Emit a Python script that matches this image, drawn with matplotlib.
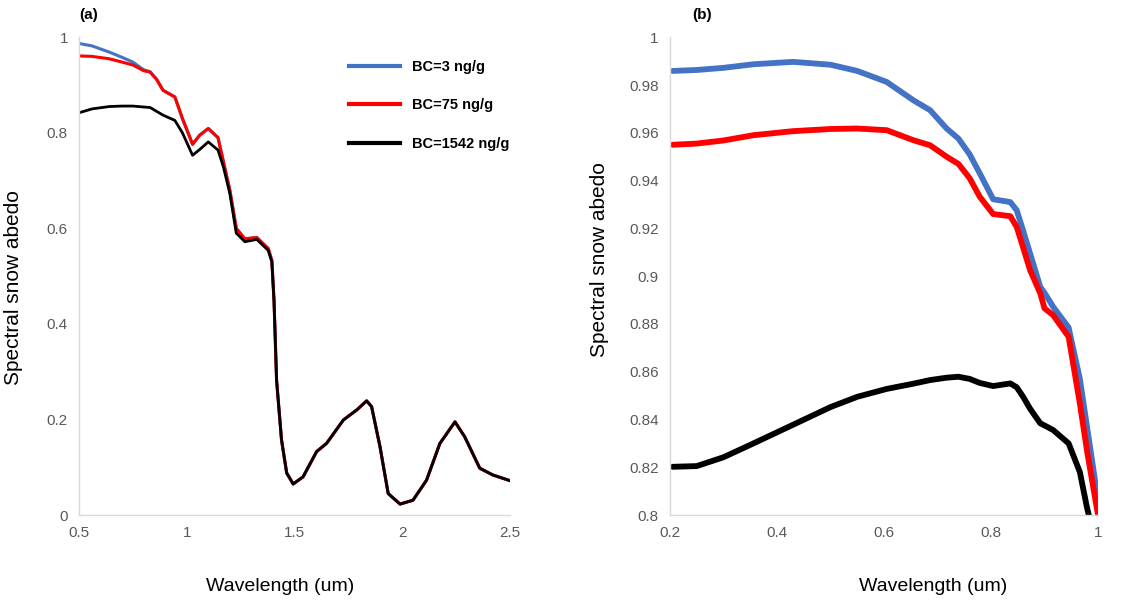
import matplotlib.pyplot as plt
from matplotlib.ticker import FuncFormatter
from matplotlib.lines import Line2D

plt.rcParams['font.family'] = ['Liberation Sans', 'DejaVu Sans']

# ---------------- panel (a): full spectrum ----------------
wl_a = [0.50, 0.56, 0.64, 0.70, 0.75, 0.80, 0.83, 0.86, 0.89, 0.945, 0.98,
        1.027, 1.06, 1.10, 1.145, 1.17, 1.20, 1.23, 1.27, 1.325, 1.378, 1.395,
        1.405, 1.417, 1.44, 1.464, 1.494, 1.54, 1.603, 1.649, 1.727, 1.789,
        1.835, 1.858, 1.897, 1.935, 1.99, 2.05, 2.113, 2.175, 2.245, 2.29,
        2.36, 2.42, 2.50]

black_a = [0.842, 0.850, 0.855, 0.856, 0.856, 0.854, 0.853, 0.845, 0.837, 0.826, 0.800,
           0.753, 0.765, 0.781, 0.764, 0.729, 0.673, 0.590, 0.572, 0.577, 0.554, 0.530,
           0.450, 0.282, 0.157, 0.088, 0.065, 0.080, 0.133, 0.150, 0.199, 0.220,
           0.239, 0.227, 0.143, 0.045, 0.023, 0.031, 0.073, 0.150, 0.195, 0.164,
           0.098, 0.084, 0.072]

red_a = [0.961, 0.960, 0.955, 0.948, 0.942, 0.930, 0.927, 0.912, 0.889, 0.875, 0.830,
         0.776, 0.795, 0.809, 0.790, 0.740, 0.680, 0.600, 0.578, 0.581, 0.558, 0.533] + black_a[22:]

blue_a = [0.987, 0.982, 0.969, 0.958, 0.948, 0.932, 0.928] + red_a[7:]

# ---------------- panel (b): 0.2 - 1.0 um ----------------
wl_b = [0.205, 0.25, 0.30, 0.356, 0.43, 0.50, 0.55, 0.605, 0.655, 0.686, 0.717,
        0.739, 0.76, 0.779, 0.804, 0.836, 0.848, 0.86, 0.873, 0.892, 0.90, 0.916,
        0.945, 0.966, 0.98, 1.0]

blue_b = [0.9859, 0.9863, 0.9872, 0.9887, 0.9897, 0.9885, 0.9859, 0.9813, 0.9736, 0.9695, 0.9618,
          0.9576, 0.951, 0.943, 0.9322, 0.931, 0.9276, 0.919, 0.9095, 0.8955, 0.893, 0.8872,
          0.8785, 0.857, 0.836, 0.806]

red_b = [0.955, 0.9555, 0.9568, 0.959, 0.9607, 0.9616, 0.9618, 0.9611, 0.9569, 0.9548, 0.950,
         0.947, 0.941, 0.9332, 0.926, 0.9251, 0.9206, 0.912, 0.9025, 0.8928, 0.8865, 0.8837,
         0.8746, 0.8467, 0.826, 0.800]

wl_b_black = wl_b[:-2] + [0.979, 0.99]
black_b = [0.8202, 0.8205, 0.8242, 0.830, 0.8378, 0.8452, 0.8495, 0.8528, 0.855, 0.8565, 0.8575,
           0.8579, 0.857, 0.8553, 0.854, 0.8551, 0.8535, 0.8495, 0.8445, 0.8384, 0.8375, 0.8356,
           0.830, 0.818, 0.8035, 0.793]

labels = ["BC=3 ng/g", "BC=75 ng/g", "BC=1542 ng/g"]
BLUE, RED, BLACK = "#4472C4", "#FF0000", "#000000"
TICK_GREY = "#595959"
SPINE_GREY = "#D9D9D9"

fig = plt.figure(figsize=(11.4, 6.01), dpi=100)
ax_a = fig.add_axes([0.0693, 0.143, 0.378, 0.795])
ax_b = fig.add_axes([0.5877, 0.143, 0.3755, 0.795])


def style_axes(ax, xlab_x, ylab_x, ylab_y):
    for side in ["top", "right"]:
        ax.spines[side].set_visible(False)
    for side in ["left", "bottom"]:
        ax.spines[side].set_color(SPINE_GREY)
        ax.spines[side].set_linewidth(1.0)
    ax.tick_params(length=0, labelsize=11, labelcolor=TICK_GREY, pad=8)
    fmt = FuncFormatter(lambda v, p: f"{v:g}")
    ax.xaxis.set_major_formatter(fmt)
    ax.yaxis.set_major_formatter(fmt)
    ax.set_xlabel("Wavelength (um)", fontsize=14, va="center")
    ax.set_ylabel("Spectral snow abedo", fontsize=15, va="center")
    ax.xaxis.set_label_coords(xlab_x, -0.149)
    ax.yaxis.set_label_coords(ylab_x, ylab_y)


# panel (a)
ax_a.plot(wl_a, blue_a, color=BLUE, lw=2.2, solid_capstyle="round", solid_joinstyle="round")
ax_a.plot(wl_a, red_a, color=RED, lw=2.2, solid_capstyle="round", solid_joinstyle="round")
ax_a.plot(wl_a, black_a, color=BLACK, lw=2.0, solid_capstyle="round", solid_joinstyle="round")
ax_a.set_xlim(0.5, 2.5)
ax_a.set_ylim(0, 1)
ax_a.set_xticks([0.5, 1, 1.5, 2, 2.5])
ax_a.set_yticks([0, 0.2, 0.4, 0.6, 0.8, 1])
style_axes(ax_a, 0.466, -0.153, 0.477)
ax_a.text(0.0, 1.046, "(a)", transform=ax_a.transAxes, fontsize=11, fontweight="bold",
          ha="left", va="center")

handles = [Line2D([], [], color=c, lw=3) for c in (BLUE, RED, BLACK)]
ax_a.legend(handles, labels, loc="upper left", bbox_to_anchor=(0.596, 0.98),
            frameon=False, prop={"weight": "bold", "size": 10.5}, handlelength=3.5,
            labelspacing=1.68, handletextpad=0.82)

# panel (b)
ax_b.plot(wl_b, blue_b, color=BLUE, lw=4.2, solid_capstyle="round", solid_joinstyle="round")
ax_b.plot(wl_b, red_b, color=RED, lw=4.2, solid_capstyle="round", solid_joinstyle="round")
ax_b.plot(wl_b_black, black_b, color=BLACK, lw=4.2, solid_capstyle="round", solid_joinstyle="round")
ax_b.set_xlim(0.2, 1.0)
ax_b.set_ylim(0.8, 1.0)
ax_b.set_xticks([0.2, 0.4, 0.6, 0.8, 1.0])
ax_b.set_yticks([0.8, 0.82, 0.84, 0.86, 0.88, 0.9, 0.92, 0.94, 0.96, 0.98, 1.0])
style_axes(ax_b, 0.614, -0.164, 0.535)
ax_b.text(0.051, 1.046, "(b)", transform=ax_b.transAxes, fontsize=11, fontweight="bold",
          ha="left", va="center")

fig.savefig("out.png", dpi=100)
